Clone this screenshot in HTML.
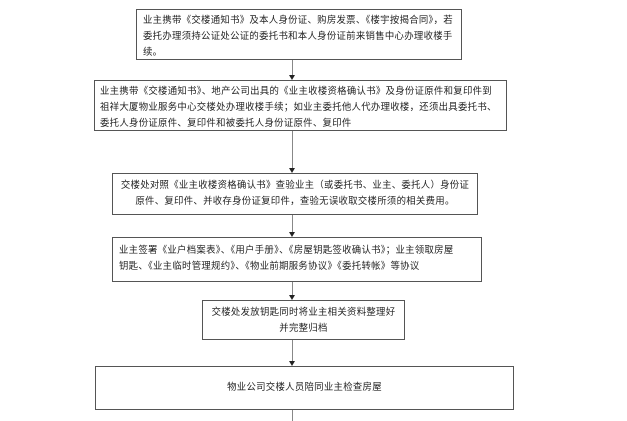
<!DOCTYPE html>
<html><head><meta charset="utf-8"><style>
body{margin:0;background:#fff;width:627px;height:421px;position:relative;overflow:hidden;font-family:"Liberation Sans","Noto Sans CJK SC",sans-serif;}
.b{position:absolute;border:1px solid #555;box-sizing:border-box;font-size:9.4px;line-height:16px;color:#222;padding:2px 4px;white-space:nowrap;overflow:hidden;letter-spacing:0.3px;}
.l{position:absolute;left:292px;width:1px;background:#888;}
.a{position:absolute;left:289px;width:0;height:0;border-left:3px solid transparent;border-right:3px solid transparent;border-top:5px solid #222;}
</style></head><body>
<div class="b" style="left:136px;top:9px;width:326px;height:51px;padding-left:6px;">业主携带《交楼通知书》及本人身份证、购房发票、《楼宇按揭合同》，若<br>委托办理须持公证处公证的委托书和本人身份证前来销售中心办理收楼手<br>续。</div>
<div class="l" style="top:60px;height:15px"></div><div class="a" style="top:75px"></div>
<div class="b" style="left:94px;top:80px;width:413px;height:51px;padding-left:5px;">业主携带《交楼通知书》、地产公司出具的《业主收楼资格确认书》及身份证原件和复印件到<br>祖祥大厦物业服务中心交楼处办理收楼手续；如业主委托他人代办理收楼，还须出具委托书、<br>委托人身份证原件、复印件和被委托人身份证原件、复印件</div>
<div class="l" style="top:131px;height:37px"></div><div class="a" style="top:168px"></div>
<div class="b" style="left:112px;top:173px;width:366px;height:42px;text-align:center;padding-top:3px;">交楼处对照《业主收楼资格确认书》查验业主（或委托书、业主、委托人）身份证<br>原件、复印件、并收存身份证复印件，查验无误收取交楼所须的相关费用。</div>
<div class="l" style="top:215px;height:17px"></div><div class="a" style="top:232px"></div>
<div class="b" style="left:112px;top:237px;width:370px;height:45px;padding-top:4px;padding-left:6px;">业主签署《业户档案表》、《用户手册》、《房屋钥匙签收确认书》；业主领取房屋<br>钥匙、《业主临时管理规约》、《物业前期服务协议》《委托转帐》等协议</div>
<div class="l" style="top:282px;height:13px"></div><div class="a" style="top:295px"></div>
<div class="b" style="left:202px;top:300px;width:203px;height:40px;text-align:center;padding-top:3px;">交楼处发放钥匙同时将业主相关资料整理好<br>并完整归档</div>
<div class="l" style="top:340px;height:21px"></div><div class="a" style="top:361px"></div>
<div class="b" style="left:95px;top:366px;width:419px;height:44px;text-align:center;line-height:40px;padding:0;">物业公司交楼人员陪同业主检查房屋</div>
<div class="l" style="top:410px;height:11px"></div>
</body></html>
